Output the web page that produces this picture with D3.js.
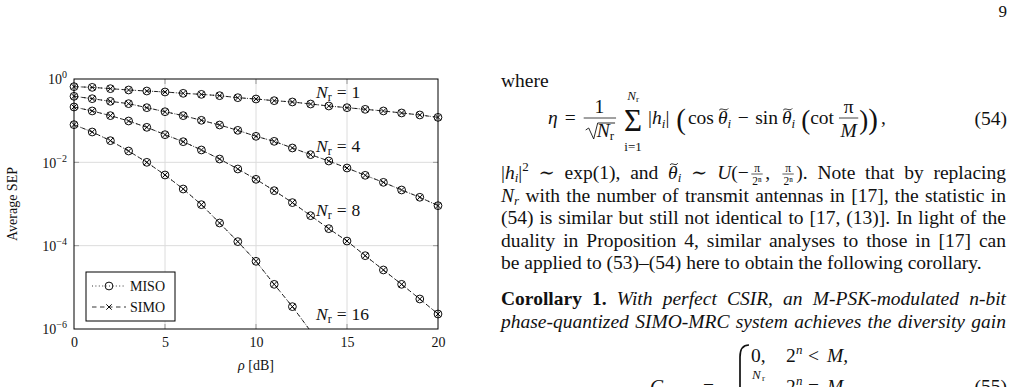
<!DOCTYPE html>
<html lang="en">
<head>
<meta charset="UTF-8">
<title>Average SEP</title>
<script src="https://cdn.jsdelivr.net/npm/d3@7"></script>
<style>
  body { margin: 0; background: #fff; }
  svg { display: block; }
  text { font-family: "Liberation Serif", "DejaVu Serif", serif; fill: #111; }
</style>
</head>
<body>
<script>
// SNR axis [dB]
var snrDb = [0, 1, 2, 3, 4, 5, 6, 7, 8, 9, 10, 11, 12, 13, 14, 15, 16, 17, 18, 19, 20];
// average SEP per receive-antenna count (MISO and SIMO coincide, both drawn from these)
var sepNr1 = [0.655, 0.63, 0.586, 0.545, 0.515, 0.488, 0.453, 0.428, 0.398, 0.356, 0.331,
              0.302, 0.281, 0.251, 0.225, 0.205, 0.187, 0.171, 0.153, 0.137, 0.120];
var sepNr4 = [0.384, 0.337, 0.291, 0.256, 0.205, 0.164, 0.132, 0.102, 0.0787, 0.0586, 0.0421,
              0.0319, 0.0221, 0.0153, 0.01076, 0.00731, 0.00488, 0.00331, 0.00217, 0.00145, 0.000912];
var sepNr8 = [0.213, 0.171, 0.132, 0.0982, 0.0692, 0.0461, 0.0313, 0.0198, 0.0120, 0.00692, 0.00391,
              0.00209, 0.00108, 5.25e-4, 2.56e-4, 1.29e-4, 5.75e-5, 2.61e-5, 1.18e-5, 5.25e-6, 2.29e-6];
var sepNr16 = [0.0802, 0.0535, 0.0331, 0.0187, 0.0100, 0.00497, 0.00229, 9.64e-4, 3.50e-4, 1.25e-4,
               4.21e-5, 1.18e-5, 3.44e-6, 8.9e-7];
var antennas = ['1', '4', '8', '16'];
// where the N_r labels sit (data coords)
var labelSnr = [13.3, 13.3, 13.3, 13.3];
var labelSep = [0.35, 0.0177, 5.15e-4, 1.66e-6];
var xTicks = [0, 5, 10, 15, 20];
var yTicks = [1, 1e-2, 1e-4, 1e-6];
var yTickExp = ['0', '\u22122', '\u22124', '\u22126'];
var legendNames = ['MISO', 'SIMO'];

var width = 1016, height = 387;
var svg = d3.select('body').append('svg').attr('width', width).attr('height', height);

var plot = { left: 74, right: 438, top: 79, bottom: 329 };
var x = d3.scaleLinear().domain([0, 20]).range([plot.left, plot.right]);
var y = d3.scaleLog().domain([1e-6, 1]).range([plot.bottom, plot.top]);

svg.append('clipPath').attr('id', 'clip').append('rect')
    .attr('x', plot.left).attr('y', plot.top)
    .attr('width', plot.right - plot.left).attr('height', plot.bottom - plot.top);

// grid
var grid = svg.append('g').attr('stroke', '#dcdcdc').attr('stroke-width', 1);
grid.selectAll('.gx').data(xTicks.slice(1, -1)).enter().append('line')
    .attr('x1', function(d) { return x(d); }).attr('x2', function(d) { return x(d); })
    .attr('y1', plot.top).attr('y2', plot.bottom);
grid.selectAll('.gy').data(yTicks.slice(1, -1)).enter().append('line')
    .attr('y1', function(d) { return y(d); }).attr('y2', function(d) { return y(d); })
    .attr('x1', plot.left).attr('x2', plot.right);

// inward ticks
var tk = svg.append('g').attr('stroke', '#999').attr('stroke-width', 1);
xTicks.slice(1, -1).forEach(function(d) {
    tk.append('line').attr('x1', x(d)).attr('x2', x(d)).attr('y1', plot.bottom).attr('y2', plot.bottom - 5);
    tk.append('line').attr('x1', x(d)).attr('x2', x(d)).attr('y1', plot.top).attr('y2', plot.top + 5);
});
yTicks.slice(1, -1).forEach(function(d) {
    tk.append('line').attr('y1', y(d)).attr('y2', y(d)).attr('x1', plot.left).attr('x2', plot.left + 5);
    tk.append('line').attr('y1', y(d)).attr('y2', y(d)).attr('x1', plot.right).attr('x2', plot.right - 5);
});

// curves
var series = [sepNr1, sepNr4, sepNr8, sepNr16];
var line = d3.line()
    .x(function(d, i) { return x(snrDb[i]); })
    .y(function(d) { return y(d); });
var curves = svg.append('g').attr('clip-path', 'url(#clip)');
series.forEach(function(s) {
    curves.append('path').datum(s).attr('d', line)
        .attr('fill', 'none').attr('stroke', '#000').attr('stroke-width', 0.8)
        .attr('stroke-dasharray', '1 2.4');   // MISO dotted
    curves.append('path').datum(s).attr('d', line)
        .attr('fill', 'none').attr('stroke', '#000').attr('stroke-width', 0.8)
        .attr('stroke-dasharray', '4.5 3.5');   // SIMO dashed
});

function circleMark(g, cx, cy) {
    g.append('circle').attr('cx', cx).attr('cy', cy).attr('r', 3.9)
        .attr('fill', 'none').attr('stroke', '#000').attr('stroke-width', 0.95);
}
function crossMark(g, cx, cy) {
    var s = 2.7;
    g.append('path').attr('d', 'M' + (cx - s) + ',' + (cy - s) + 'L' + (cx + s) + ',' + (cy + s) +
        'M' + (cx - s) + ',' + (cy + s) + 'L' + (cx + s) + ',' + (cy - s))
        .attr('stroke', '#000').attr('stroke-width', 0.95);
}
var marks = svg.append('g');
series.forEach(function(s) {
    s.forEach(function(v, i) {
        if (v < 1e-6) return;
        circleMark(marks, x(snrDb[i]), y(v));
        crossMark(marks, x(snrDb[i]), y(v));
    });
});

// frame
svg.append('rect').attr('x', plot.left).attr('y', plot.top)
    .attr('width', plot.right - plot.left).attr('height', plot.bottom - plot.top)
    .attr('fill', 'none').attr('stroke', '#000').attr('stroke-width', 1);

// N_r labels
antennas.forEach(function(n, i) {
    var t = svg.append('text').attr('x', x(labelSnr[i])).attr('y', y(labelSep[i]))
        .attr('font-size', 17.5).style('white-space', 'pre');
    t.append('tspan').attr('font-style', 'italic').text('N');
    t.append('tspan').attr('font-size', 12).attr('dy', 3).text('r');
    t.append('tspan').attr('dy', -3).attr('dx', 5).text('=');
    t.append('tspan').attr('dx', 5).text(n);
});

// x axis labels
var xAxis = d3.axisBottom(x).tickValues(xTicks).tickSize(0).tickPadding(8).tickFormat(d3.format('d'));
var xg = svg.append('g').attr('transform', 'translate(0,' + plot.bottom + ')').call(xAxis);
xg.select('.domain').remove();
xg.selectAll('text').attr('font-size', 14).attr('font-family', '"Liberation Serif", serif').attr('fill', '#111');

// y axis labels with superscripts
var yAxis = d3.axisLeft(y).tickValues(yTicks).tickSize(0).tickPadding(7).tickFormat(function() { return ''; });
var yg = svg.append('g').attr('transform', 'translate(' + plot.left + ',0)').call(yAxis);
yg.select('.domain').remove();
yg.selectAll('text').each(function(d) {
    var t = d3.select(this).attr('font-size', 14).attr('font-family', '"Liberation Serif", serif')
        .attr('fill', '#111').attr('dy', '0.35em');
    t.append('tspan').text('10');
    t.append('tspan').attr('font-size', 10).attr('dy', -6).text(yTickExp[yTicks.indexOf(d)]);
});

svg.append('text').attr('x', (plot.left + plot.right) / 2).attr('y', 370)
    .attr('text-anchor', 'middle').attr('font-size', 14).style('white-space', 'pre')
    .call(function(t) {
        t.append('tspan').attr('font-style', 'italic').text('\u03c1');
        t.append('tspan').text(' [dB]');
    });
svg.append('text').attr('transform', 'translate(17,' + ((plot.top + plot.bottom) / 2) + ') rotate(-90)')
    .attr('text-anchor', 'middle').attr('font-size', 14).text('Average SEP');

// legend
var lg = svg.append('g');
lg.append('rect').attr('x', 86).attr('y', 272).attr('width', 89).attr('height', 49)
    .attr('fill', '#fff').attr('stroke', '#000').attr('stroke-width', 1);
legendNames.forEach(function(name, i) {
    var ly = 286 + i * 21;
    lg.append('line').attr('x1', 92).attr('x2', 126).attr('y1', ly).attr('y2', ly)
        .attr('stroke', '#000').attr('stroke-width', 0.8)
        .attr('stroke-dasharray', i === 0 ? '1 2.4' : '4.5 3.5');
    if (i === 0) circleMark(lg, 109, ly); else crossMark(lg, 109, ly);
    lg.append('text').attr('x', 130).attr('y', ly + 5).attr('font-size', 14).text(name);
});

// ---------------- right column text ----------------
var FS = 19.5;
var colL = 501, colR = 1006;
var page = svg.append('g');

function txt(parent, px, py, s, size, opts) {
    opts = opts || {};
    return parent.append('text').attr('x', px).attr('y', py).attr('font-size', size || FS)
        .attr('font-style', opts.italic ? 'italic' : null)
        .attr('font-weight', opts.bold ? 'bold' : null)
        .attr('text-anchor', opts.anchor || null)
        .style('white-space', 'pre').text(s);
}
// wide tilde accent drawn over a glyph
function tilde(parent, cx, ty, w) {
    parent.append('path')
        .attr('d', 'M' + (cx - w / 2) + ',' + (ty + 1.2) + ' C' + (cx - w / 4) + ',' + (ty - 2.2) + ' ' +
            (cx + w / 4) + ',' + (ty + 3.2) + ' ' + (cx + w / 2) + ',' + (ty - 0.6))
        .attr('fill', 'none').attr('stroke', '#111').attr('stroke-width', 0.9);
}

// inline line layout: runs of text, sub/superscripts and small fractions; justified if asked
function textLine(runs, py, justify) {
    var items = runs.map(function(r) {
        var size = r.size || FS;
        if (r.frac) {
            var g = page.append('g');
            var n = g.append('text').attr('y', py - 7.5).attr('font-size', 11.5).attr('text-anchor', 'middle')
                .style('white-space', 'pre').text(r.frac[0]);
            var dd = g.append('text').attr('y', py + 5.5).attr('font-size', 11.5).attr('text-anchor', 'middle')
                .style('white-space', 'pre').text(r.frac[1]);
            var w = Math.max(n.node().getComputedTextLength(), dd.node().getComputedTextLength()) + 7;
            var bar = g.append('line').attr('y1', py - 5).attr('y2', py - 5).attr('stroke', '#111').attr('stroke-width', 0.7);
            return { w: w, spaces: 0, place: function(px) {
                n.attr('x', px + w / 2); dd.attr('x', px + w / 2); bar.attr('x1', px + 2.5).attr('x2', px + w - 2.5);
            } };
        }
        var el = txt(page, 0, py + (r.dy || 0), r.t, size, r);
        var wt = el.node().getComputedTextLength();
        var sp = (r.t.match(/ /g) || []).length;
        return { w: wt, spaces: sp, el: el, place: function(px, extra) {
            el.attr('x', px).attr('word-spacing', extra);
            if (r.tilde) tilde(page, px + wt * 0.6, py - size * 0.78, wt * 0.8);
        } };
    });
    var total = d3.sum(items, function(d) { return d.w; });
    var nsp = d3.sum(items, function(d) { return d.spaces; });
    var extra = (justify && nsp) ? (colR - colL - total) / nsp : 0;
    var px = colL;
    items.forEach(function(it) {
        it.place(px, extra);
        px += it.w + it.spaces * extra;
    });
}

txt(page, 1007, 17, '9', 17, { anchor: 'end' });
txt(page, colL, 87, 'where');

// equation (54), laid out left to right with a cursor
var B = 124;
var eq = page.append('g');
var cx = 0;
function put(s, size, opts, dy) {
    var t = txt(eq, cx, B + (dy || 0), s, size, opts);
    var w = t.node().getComputedTextLength();
    cx += w;
    return w;
}
function gap(w) { cx += w; }

put('\u03b7', FS, { italic: true }); gap(7);
put('=', FS); gap(8);
// 1 / sqrt(N_r)
var f0 = cx;
var nW = txt(eq, 0, B + 13, 'N', FS, { italic: true });
var nw = nW.node().getComputedTextLength();
var rW = txt(eq, 0, B + 16, 'r', 13);
var rw = rW.node().getComputedTextLength();
var denW = 12 + nw + rw + 2;
nW.attr('x', f0 + 13); rW.attr('x', f0 + 13 + nw);
eq.append('path').attr('d', 'M' + (f0 + 2) + ',' + (B + 6) + ' l3,-2 l5,11 l4,-16 L' + (f0 + denW) + ',' + (B - 1))
    .attr('fill', 'none').attr('stroke', '#111').attr('stroke-width', 0.9);
eq.append('line').attr('x1', f0).attr('x2', f0 + denW + 1).attr('y1', B - 6).attr('y2', B - 6)
    .attr('stroke', '#111').attr('stroke-width', 0.8);
txt(eq, f0 + denW / 2, B - 11, '1', FS, { anchor: 'middle' });
cx = f0 + denW + 9;
// sum with limits
var sx = cx;
var sw = put('\u03a3', 31, {}, 7);
var lim = eq.append('text').attr('x', sx + sw / 2).attr('y', B - 24).attr('font-size', 13)
    .attr('text-anchor', 'middle').style('white-space', 'pre');
lim.append('tspan').attr('font-style', 'italic').text('N');
lim.append('tspan').attr('font-size', 9).attr('dy', 2).text('r');
txt(eq, sx + sw / 2, B + 27, 'i=1', 13, { anchor: 'middle' });
gap(6);
put('|', FS); put('h', FS, { italic: true }); put('i', 13, { italic: true }, 4); put('|', FS); gap(7);
put('(', 29, {}, 5); gap(2);
put('cos', FS); gap(4);
var t1 = cx, tw1 = put('\u03b8', FS, { italic: true });
tilde(eq, t1 + tw1 * 0.6, B - 15, 9);
put('i', 13, { italic: true }, 4); gap(6.5);
put('\u2212', FS); gap(6.5);
put('sin', FS); gap(4);
var t2 = cx, tw2 = put('\u03b8', FS, { italic: true });
tilde(eq, t2 + tw2 * 0.6, B - 15, 9);
put('i', 13, { italic: true }, 4); gap(6);
put('(', 27, {}, 5);
put('cot', FS); gap(5);
// pi / M
var pm = cx;
var mW = txt(eq, 0, B + 13, 'M', FS, { italic: true, anchor: 'middle' });
var fw = mW.node().getComputedTextLength() + 3;
mW.attr('x', pm + fw / 2);
txt(eq, pm + fw / 2, B - 11, '\u03c0', FS, { anchor: 'middle' });
eq.append('line').attr('x1', pm).attr('x2', pm + fw).attr('y1', B - 6).attr('y2', B - 6)
    .attr('stroke', '#111').attr('stroke-width', 0.8);
cx = pm + fw + 1;
put(')', 27, {}, 5); put(')', 29, {}, 5); gap(3);
put(',', FS);
eq.attr('transform', 'translate(' + (548) + ',0)');
txt(page, 1007, B + 1, '(54)', FS, { anchor: 'end' });

// paragraph
var L = 22.5;
textLine([
    { t: '|' }, { t: 'h', italic: true }, { t: 'i', italic: true, size: 13, dy: 3 }, { t: '|' },
    { t: '2', size: 13, dy: -8 }, { t: ' \u223c exp(1), and ' }, { t: '\u03b8', italic: true, tilde: true },
    { t: 'i', italic: true, size: 13, dy: 3 }, { t: ' \u223c ' }, { t: 'U', italic: true }, { t: '(\u2212' },
    { frac: ['\u03c0', '2\u207f'] }, { t: ', ' }, { frac: ['\u03c0', '2\u207f'] },
    { t: '). Note that by replacing' }
], 179, true);
textLine([{ t: 'N', italic: true }, { t: 'r', italic: true, size: 13, dy: 3 },
    { t: ' with the number of transmit antennas in [17], the statistic in' }], 179 + L, true);
textLine([{ t: '(54) is similar but still not identical to [17, (13)]. In light of the' }], 179 + 2 * L, true);
textLine([{ t: 'duality in Proposition 4, similar analyses to those in [17] can' }], 179 + 3 * L, true);
textLine([{ t: 'be applied to (53)\u2013(54) here to obtain the following corollary.' }], 179 + 4 * L, false);
textLine([{ t: 'Corollary 1.', bold: true }, { t: ' With perfect CSIR, an ', italic: true },
    { t: 'M', italic: true }, { t: '-PSK-modulated ', italic: true }, { t: 'n', italic: true },
    { t: '-bit', italic: true }], 305, true);
textLine([{ t: 'phase-quantized SIMO-MRC system achieves the diversity gain', italic: true }], 305 + L, true);

// equation (55), cut by the bottom edge
page.append('path').attr('d', 'M749,345 Q740,345 740,357 L740,395')
    .attr('fill', 'none').attr('stroke', '#111').attr('stroke-width', 1.7);
txt(page, 751, 362, '0,');
txt(page, 786, 362, '2');
txt(page, 796, 354, 'n', 13, { italic: true });
txt(page, 808, 362, '<');
txt(page, 827, 362, 'M,', FS, { italic: true });
txt(page, 650, 393, 'G', FS, { italic: true });
txt(page, 703, 393, '=');
txt(page, 752, 379, 'N', 13, { italic: true });
txt(page, 762, 381, 'r', 9);
txt(page, 786, 393, '2');
txt(page, 796, 385, 'n', 13, { italic: true });
txt(page, 808, 393, '=');
txt(page, 827, 393, 'M,', FS, { italic: true });
txt(page, 1007, 393, '(55)', FS, { anchor: 'end' });
</script>
</body>
</html>
